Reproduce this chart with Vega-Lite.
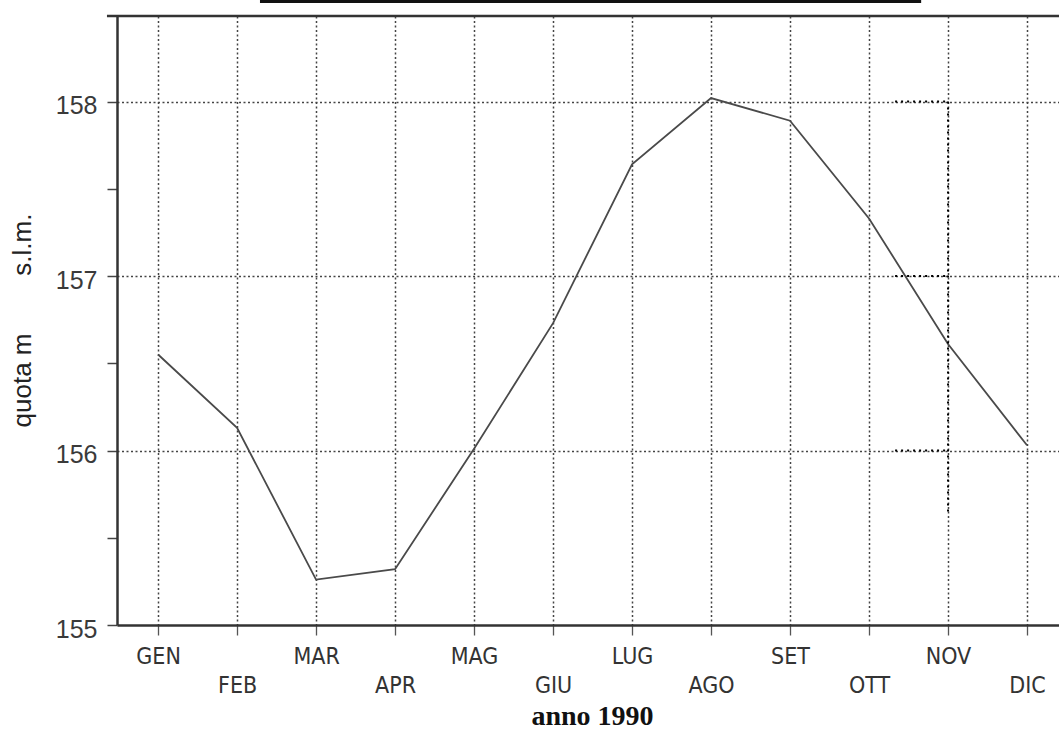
{
  "$schema": "https://vega.github.io/schema/vega-lite/v6.json",
  "width": 942,
  "height": 609,
  "autosize": {"type": "none"},
  "padding": {"left": 117, "top": 16, "right": 0, "bottom": 106},
  "background": "white",
  "config": {"view": {"stroke": null}, "font": "Liberation Sans"},
  "layer": [
    {
      "data": {
        "values": [
          {"n": 1, "mese": "GEN", "quota": 156.55},
          {"n": 2, "mese": "FEB", "quota": 156.13},
          {"n": 3, "mese": "MAR", "quota": 155.26},
          {"n": 4, "mese": "APR", "quota": 155.32},
          {"n": 5, "mese": "MAG", "quota": 156.01},
          {"n": 6, "mese": "GIU", "quota": 156.73},
          {"n": 7, "mese": "LUG", "quota": 157.64},
          {"n": 8, "mese": "AGO", "quota": 158.02},
          {"n": 9, "mese": "SET", "quota": 157.89},
          {"n": 10, "mese": "OTT", "quota": 157.33},
          {"n": 11, "mese": "NOV", "quota": 156.61},
          {"n": 12, "mese": "DIC", "quota": 156.03}
        ]
      },
      "mark": {"type": "line", "color": "#4a4a4a", "strokeWidth": 1.8},
      "encoding": {
        "x": {
          "field": "n",
          "type": "quantitative",
          "scale": {"domain": [0.48, 12.405], "nice": false, "zero": false},
          "axis": {
            "values": [1, 2, 3, 4, 5, 6, 7, 8, 9, 10, 11, 12],
            "labelExpr": "datum.value % 2 == 1 ? ['GEN','FEB','MAR','APR','MAG','GIU','LUG','AGO','SET','OTT','NOV','DIC'][datum.value - 1] : ['', ['GEN','FEB','MAR','APR','MAG','GIU','LUG','AGO','SET','OTT','NOV','DIC'][datum.value - 1]]",
            "grid": true,
            "gridDash": [2, 2.5],
            "gridColor": "#444",
            "gridWidth": 1.5,
            "domainColor": "#333",
            "domainWidth": 2.5,
            "tickColor": "#555",
            "tickSize": 10,
            "tickWidth": 1.3,
            "labelFont": "Liberation Sans Narrow, DejaVu Sans Condensed, Liberation Sans",
            "labelFontSize": 23,
            "labelColor": "#333",
            "labelPadding": 10,
            "labelLineHeight": 29,
            "labelBaseline": "top",
            "labelFlush": false,
            "labelOverlap": false,
            "title": "anno 1990",
            "titleFont": "Liberation Serif",
            "titleFontWeight": "bold",
            "titleFontSize": 28,
            "titleColor": "#111",
            "titleX": 475,
            "titleY": 99,
            "titleBaseline": "alphabetic",
            "titleAlign": "center"
          }
        },
        "y": {
          "field": "quota",
          "type": "quantitative",
          "scale": {"domain": [155, 158.49], "nice": false, "zero": false},
          "axis": {
            "values": [155, 155.5, 156, 156.5, 157, 157.5, 158],
            "labelExpr": "datum.value % 1 == 0 ? format(datum.value, 'd') : ''",
            "grid": true,
            "gridDash": [2, 2.5],
            "gridColor": "#444",
            "gridWidth": 1.5,
            "gridOpacity": {"condition": {"test": "datum.value % 1 == 0 && datum.value > 155", "value": 1}, "value": 0},
            "domainColor": "#333",
            "domainWidth": 2.5,
            "tickColor": "#444",
            "tickSize": 10,
            "tickWidth": 1.5,
            "labelFont": "Liberation Sans",
            "labelFontSize": 25,
            "labelColor": "#3a3a3a",
            "labelPadding": 10,
            "labelOffset": 4,
            "labelFlush": false,
            "labelOverlap": false,
            "title": "quota m\u00a0\u00a0\u00a0\u00a0\u00a0\u00a0\u00a0\u00a0s.l.m.",
            "titleFont": "Liberation Sans",
            "titleFontWeight": "normal",
            "titleFontSize": 26,
            "titleColor": "#222",
            "titleAngle": -90,
            "titleX": -87,
            "titleY": 304,
            "titleAlign": "center",
            "titleBaseline": "alphabetic"
          }
        }
      }
    },
    {
      "data": {
        "values": [
          {"n": 11, "n2": 11, "quota": 158, "quota2": 155.65},
          {"n": 10.33, "n2": 11, "quota": 158, "quota2": 158},
          {"n": 10.33, "n2": 11, "quota": 157, "quota2": 157},
          {"n": 10.33, "n2": 11, "quota": 156, "quota2": 156}
        ]
      },
      "mark": {"type": "rule", "color": "#000", "strokeWidth": 2, "strokeDash": [2, 4]},
      "encoding": {
        "x": {"field": "n", "type": "quantitative"},
        "x2": {"field": "n2"},
        "y": {"field": "quota", "type": "quantitative"},
        "y2": {"field": "quota2"}
      }
    },
    {
      "data": {"values": [{"n": 0.353, "n2": 12.405, "quota": 158.49}]},
      "mark": {"type": "rule", "color": "#333", "strokeWidth": 2.5},
      "encoding": {
        "x": {"field": "n", "type": "quantitative"},
        "x2": {"field": "n2"},
        "y": {"field": "quota", "type": "quantitative"}
      }
    },
    {
      "data": {"values": [{"n": 2.29, "n2": 10.66, "quota": 158.575}]},
      "mark": {"type": "rule", "color": "#111", "strokeWidth": 3.5},
      "encoding": {
        "x": {"field": "n", "type": "quantitative"},
        "x2": {"field": "n2"},
        "y": {"field": "quota", "type": "quantitative"}
      }
    }
  ]
}
